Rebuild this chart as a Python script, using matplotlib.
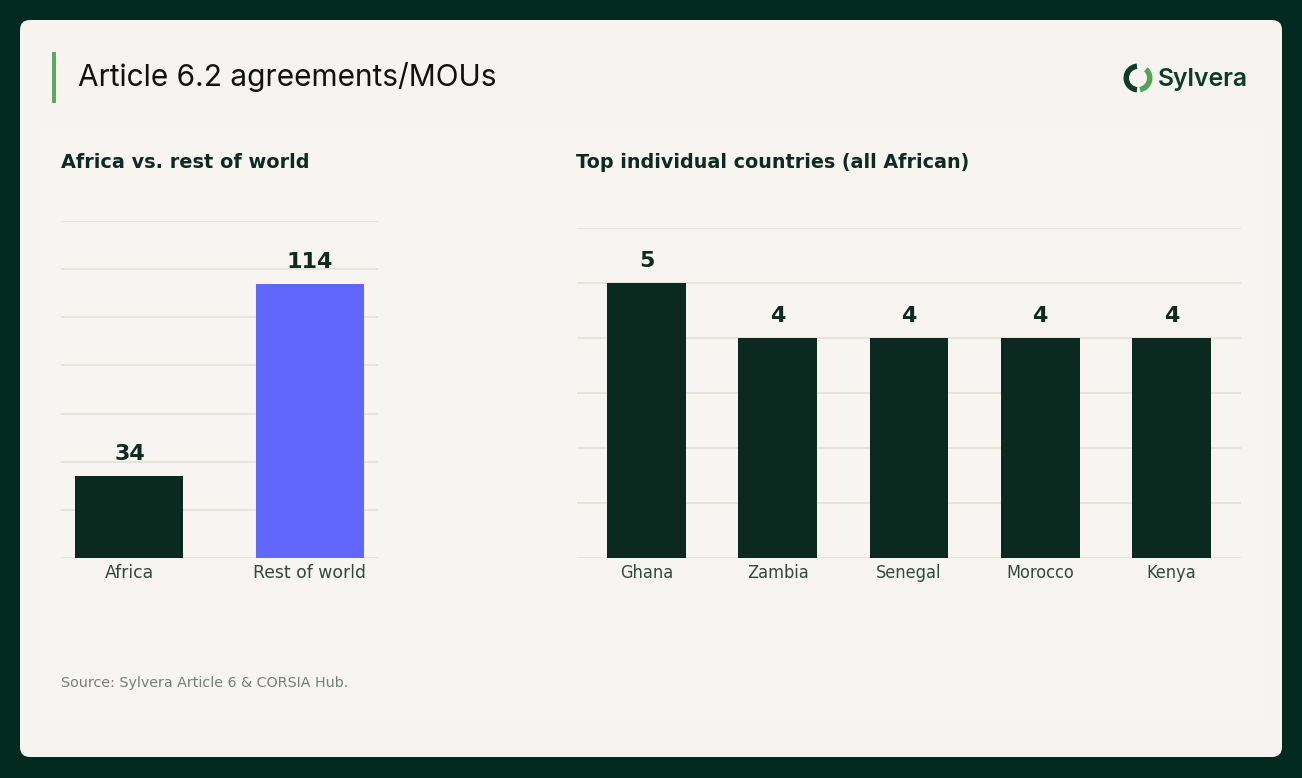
import matplotlib
matplotlib.use("Agg")
import matplotlib.pyplot as plt
from matplotlib.patches import FancyBboxPatch, Rectangle, Wedge

plt.rcParams["font.family"] = ["DejaVu Sans"]

# data
regions = ["Africa", "Rest of world"]
region_counts = [34, 114]
countries = ["Ghana", "Zambia", "Senegal", "Morocco", "Kenya"]
country_counts = [5, 4, 4, 4, 4]

W, H = 1302, 778
dark_bg = "#022A1E"
card = "#F6F3F0"
bar_dark = "#0B2A1F"
bar_blue = "#6166FF"
grid_c = "#E4E0DB"
text_dark = "#0D2B22"
tick_c = "#2E4A40"

fig = plt.figure(figsize=(W / 100, H / 100), dpi=100)
fig.patch.set_facecolor(dark_bg)

# background layer in pixel coords
bg = fig.add_axes([0, 0, 1, 1])
bg.set_xlim(0, W)
bg.set_ylim(0, H)
bg.axis("off")

def fy(y):
    return H - y

bg.add_patch(FancyBboxPatch((20, fy(757)), 1262, 737,
                            boxstyle="round,pad=0,rounding_size=10",
                            fc=card, ec="none"))
bg.add_patch(Rectangle((40, fy(718)), 1220, 588, fc="#F7F4F1", ec="none"))
bg.add_patch(Rectangle((52, fy(103)), 3.5, 51, fc="#5DAA5F", ec="none"))
bg.text(78, fy(77), "Article 6.2 agreements/MOUs", fontsize=21.5,
        family="Inter", color="#111", va="center", ha="left")

# logo
cx, cy, r = 1138, fy(78), 14.5
bg.add_patch(Wedge((cx, cy), r, 95, 265, width=5.5, fc="#0E3B2A", ec="none"))
bg.add_patch(Wedge((cx, cy), r, -80, 48, width=5.5, fc="#4FA656", ec="none"))
bg.text(1158, fy(79), "Sylvera", fontsize=17.8, family="Inter",
        weight="semibold", color="#0E3B2A", va="center", ha="left")

bg.text(61, fy(162), "Africa vs. rest of world", fontsize=13.9,
        weight="bold", color=text_dark, va="center", ha="left")
bg.text(576, fy(162), "Top individual countries (all African)", fontsize=13.8,
        weight="bold", color=text_dark, va="center", ha="left")
bg.text(61, fy(683), "Source: Sylvera Article 6 & CORSIA Hub.", fontsize=10.3,
        color="#6F827A", va="center", ha="left")


def style(ax, ymax, step, size):
    ax.set_facecolor("none")
    ax.set_ylim(0, ymax)
    ax.set_yticks(range(0, ymax + 1, step))
    ax.set_yticklabels([])
    ax.tick_params(axis="both", length=0)
    ax.tick_params(axis="x", pad=4, labelsize=size, labelcolor=tick_c)
    ax.grid(axis="y", color=grid_c, linewidth=1.2)
    ax.set_axisbelow(True)
    for s in ax.spines.values():
        s.set_visible(False)


def label(ax, bars, vals):
    for rect, v in zip(bars, vals):
        ax.annotate(str(v), (rect.get_x() + rect.get_width() / 2, v),
                    xytext=(0, 8.5), textcoords="offset points", ha="center",
                    va="bottom", fontsize=16, weight="bold", color=text_dark)


ax1 = fig.add_axes([61 / W, 1 - 558 / H, 317 / W, 337 / H])
style(ax1, 140, 20, 12.4)
b1 = ax1.bar(regions, region_counts, width=0.6, color=[bar_dark, bar_blue])
label(ax1, b1, region_counts)

ax2 = fig.add_axes([577 / W, 1 - 558 / H, 664 / W, 330 / H])
style(ax2, 6, 1, 13)
b2 = ax2.bar(countries, country_counts, width=0.6, color=bar_dark)
label(ax2, b2, country_counts)
for t in ax2.get_xticklabels():
    t.set_fontstretch("condensed")

fig.savefig("out.png", dpi=100, facecolor=dark_bg)
